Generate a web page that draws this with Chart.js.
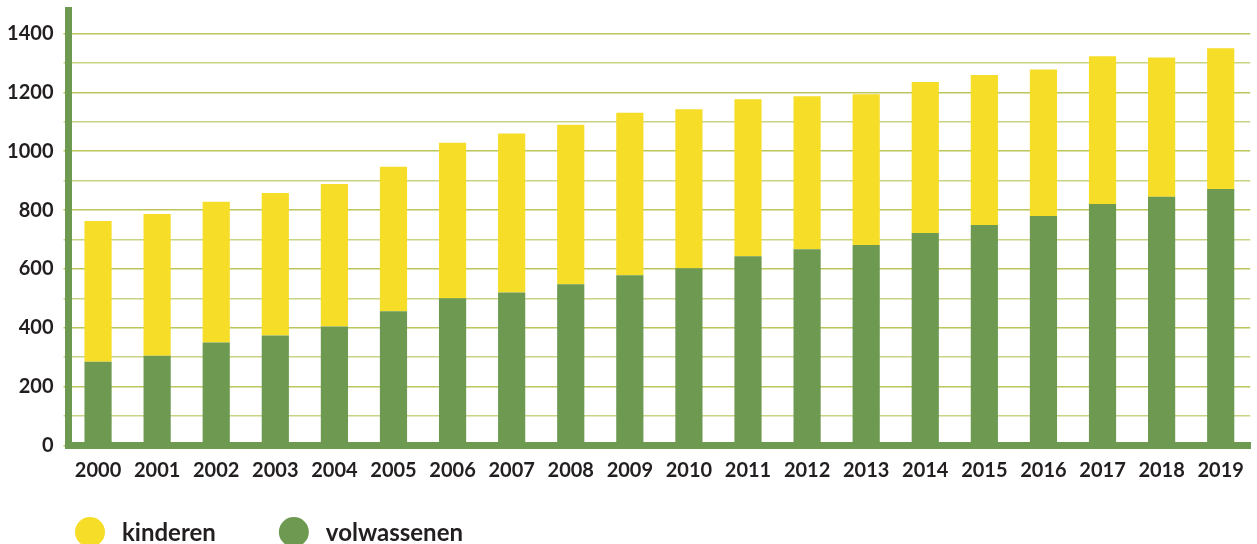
<!DOCTYPE html>
<html>
<head>
<meta charset="utf-8">
<script src="https://cdn.jsdelivr.net/npm/chart.js@4.4.1/dist/chart.umd.min.js"></script>
<style>
  html, body { margin: 0; padding: 0; background: #fff; overflow: hidden; }
  #wrap { position: relative; width: 1257px; height: 544px; }
</style>
</head>
<body>
<div id="wrap"><canvas id="chart"></canvas></div>
<script>
// jaren en aantallen
const years = ["2000", "2001", "2002", "2003", "2004", "2005", "2006", "2007", "2008", "2009",
  "2010", "2011", "2012", "2013", "2014", "2015", "2016", "2017", "2018", "2019"];
const volwassenen = [285, 305, 350, 374, 404, 456, 500, 520, 548, 579,
  602, 643, 667, 681, 722, 749, 780, 821, 845, 872];
const kinderen = [478, 482, 478, 484, 485, 491, 529, 540, 542, 552,
  541, 534, 520, 513, 513, 510, 498, 502, 474, 478];
// hulplijnen om de 100, label om de 200
const yTicks = [0, 100, 200, 300, 400, 500, 600, 700, 800, 900, 1000, 1100, 1200, 1300, 1400];
const yMax = 1480;

const GREEN = "#6d9a50";
const YELLOW = "#f6dd28";
const TEXT = "#231f20";
const FONT = "Lato";

// legend: gekleurde bolletjes onder de grafiek
const dotLegend = {
  id: "dotLegend",
  afterDraw(chart) {
    const ctx = chart.ctx;
    const items = chart.data.datasets.slice().reverse();
    let cx = 90;
    const cy = 532;
    ctx.save();
    ctx.font = "bold 24px " + FONT;
    ctx.textBaseline = "alphabetic";
    ctx.textAlign = "left";
    items.forEach((ds) => {
      ctx.beginPath();
      ctx.arc(cx, cy, 15, 0, Math.PI * 2);
      ctx.fillStyle = ds.backgroundColor;
      ctx.fill();
      ctx.fillStyle = TEXT;
      const tx = cx + 32;
      ctx.fillText(ds.label, tx, 541);
      cx = tx + ctx.measureText(ds.label).width + 78;
    });
    ctx.restore();
  }
};

const ctx = document.getElementById("chart").getContext("2d");

new Chart(ctx, {
  type: "bar",
  data: {
    labels: years,
    datasets: [
      {
        label: "volwassenen",
        data: volwassenen,
        backgroundColor: GREEN,
        barPercentage: 0.46,
        categoryPercentage: 1,
      },
      {
        label: "kinderen",
        data: kinderen,
        backgroundColor: YELLOW,
        barPercentage: 0.46,
        categoryPercentage: 1,
      },
    ],
  },
  options: {
    responsive: true,
    maintainAspectRatio: false,
    animation: false,
    layout: { padding: { top: 10, right: 4, bottom: 48.5, left: 0 } },
    plugins: {
      legend: { display: false },
      tooltip: { enabled: false },
    },
    scales: {
      x: {
        stacked: true,
        grid: { display: false, drawTicks: false },
        border: { display: true, color: GREEN, width: 7 },
        ticks: {
          color: TEXT,
          padding: 13,
          font: { family: FONT, size: 20, weight: "bold" },
        },
      },
      y: {
        stacked: true,
        min: 0,
        max: yMax,
        afterBuildTicks(scale) {
          scale.ticks = yTicks.map((v) => ({ value: v }));
        },
        afterFit(scale) {
          scale.width = 68.5;
          scale.paddingTop = 0;
        },
        grid: {
          color: (c) => (c.tick && c.tick.value % 200 === 0 ? "#bcc65a" : "#cad384"),
          lineWidth: 1.5,
          tickLength: 5,
        },
        border: { display: true, color: GREEN, width: 7 },
        ticks: {
          color: TEXT,
          padding: 10,
          font: { family: FONT, size: 20, weight: "bold" },
          callback: (v) => (v % 200 === 0 ? v : ""),
        },
      },
    },
  },
  plugins: [dotLegend],
});
</script>
</body>
</html>
